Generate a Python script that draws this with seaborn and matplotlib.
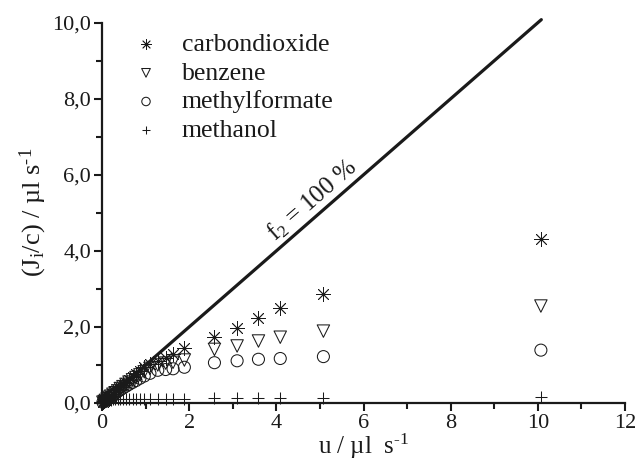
import matplotlib
matplotlib.use("Agg")
import matplotlib.pyplot as plt
import seaborn as sns
import pandas as pd
from matplotlib.ticker import FixedLocator, FixedFormatter, MultipleLocator

# flow rate u (µl/s) shared by all four substances
u = [0.02, 0.05, 0.08, 0.12, 0.16, 0.20, 0.25, 0.30, 0.36, 0.42, 0.48, 0.55,
     0.62, 0.70, 0.78, 0.87, 0.97, 1.10, 1.28, 1.46, 1.63, 1.89, 2.58, 3.10,
     3.59, 4.09, 5.08, 10.07]

carbondioxide = [0.02, 0.05, 0.08, 0.12, 0.16, 0.19, 0.24, 0.29, 0.35, 0.41,
                 0.47, 0.53, 0.60, 0.68, 0.75, 0.84, 0.94, 1.03, 1.10, 1.19,
                 1.28, 1.44, 1.74, 1.98, 2.24, 2.50, 2.86, 4.30]
benzene = [0.02, 0.04, 0.07, 0.11, 0.15, 0.18, 0.23, 0.27, 0.32, 0.38, 0.43,
           0.49, 0.55, 0.61, 0.67, 0.74, 0.82, 0.91, 1.00, 1.05, 1.07, 1.13,
           1.41, 1.50, 1.63, 1.73, 1.89, 2.55]
methylformate = [0.02, 0.04, 0.07, 0.10, 0.14, 0.17, 0.21, 0.25, 0.30, 0.35,
                 0.39, 0.44, 0.49, 0.54, 0.59, 0.65, 0.71, 0.78, 0.86, 0.88,
                 0.90, 0.94, 1.06, 1.11, 1.15, 1.17, 1.22, 1.39]
methanol = [0.01, 0.03, 0.05, 0.07, 0.08, 0.09, 0.10, 0.10, 0.11, 0.11, 0.11,
            0.11, 0.11, 0.11, 0.11, 0.11, 0.11, 0.11, 0.11, 0.11, 0.11, 0.11,
            0.12, 0.12, 0.12, 0.12, 0.13, 0.15]

# f2 = 100 % reference line (J/c = u)
line_u = [0.0, 10.08]
line_j = [0.0, 10.08]

x_ticks = [0, 2, 4, 6, 8, 10, 12]
x_tick_labels = ["0", "2", "4", "6", "8", "10", "12"]
y_ticks = [0, 2, 4, 6, 8, 10]
y_tick_labels = ["0,0", "2,0", "4,0", "6,0", "8,0", "10,0"]

sns.set_theme(style="ticks")
plt.rcParams["font.family"] = ["Liberation Serif", "DejaVu Serif"]
plt.rcParams["mathtext.fontset"] = "custom"
plt.rcParams["mathtext.rm"] = "Liberation Serif"
plt.rcParams["mathtext.it"] = "Liberation Serif:italic"

INK = "#1a1a1a"

fig = plt.figure(figsize=(6.35, 4.62), dpi=100)
ax = fig.add_axes([102 / 635, 59 / 462, 523 / 635, 380.3 / 462])

series = [
    ("carbondioxide", carbondioxide, (8, 2, 0), 105, 0.6),
    ("benzene", benzene, "v", 80, 0.75),
    ("methylformate", methylformate, "o", 75, 0.75),
    ("methanol", methanol, "+", 85, 0.75),
]

for name, vals, marker, size, lw in series:
    df = pd.DataFrame({"u": u, "J": vals})
    filled = marker in ("v", "o")
    sns.scatterplot(
        data=df, x="u", y="J", ax=ax, marker=marker, s=size,
        facecolors="none" if filled else INK,
        edgecolors=INK, color=INK, linewidths=lw,
        label=name, clip_on=False, zorder=3,
    )

sns.lineplot(x=line_u, y=line_j, ax=ax, color=INK, linewidth=2.3,
             legend=False, zorder=4)
ax.lines[-1].set_clip_on(False)

ax.text(4.82, 5.33, r"f$_\mathregular{2}$ = 100 %", rotation=41.2,
        rotation_mode="anchor", ha="center", va="center", fontsize=18,
        color=INK)

ax.set_xlim(0, 12)
ax.set_ylim(0, 10)
ax.xaxis.set_major_locator(FixedLocator(x_ticks))
ax.xaxis.set_major_formatter(FixedFormatter(x_tick_labels))
ax.yaxis.set_major_locator(FixedLocator(y_ticks))
ax.yaxis.set_major_formatter(FixedFormatter(y_tick_labels))
ax.xaxis.set_minor_locator(MultipleLocator(1))
ax.yaxis.set_minor_locator(MultipleLocator(1))

ax.tick_params(which="major", direction="out", length=6, width=1.5,
               labelsize=16, color=INK, labelcolor=INK, pad=2)
ax.tick_params(which="minor", direction="out", length=4, width=1.5,
               color=INK)
for side in ("top", "right"):
    ax.spines[side].set_visible(False)
for side in ("left", "bottom"):
    ax.spines[side].set_linewidth(1.6)
    ax.spines[side].set_color(INK)

ax.set_xlabel(r"u / µl  s$^\text{-1}$", fontsize=18, labelpad=-1, color=INK)
ax.set_ylabel(r"(J$_\mathregular{i}$/c) / µl s$^\text{-1}$",
              fontsize=19, labelpad=2, color=INK)

leg = ax.legend(loc="upper left", bbox_to_anchor=(0.035, 1.0), frameon=False,
                fontsize=18.5, markerscale=0.7, handlelength=1.2,
                handletextpad=0.8, labelspacing=0.22, borderaxespad=0)
for t in leg.get_texts():
    t.set_color(INK)

fig.savefig("out.png", dpi=100)
